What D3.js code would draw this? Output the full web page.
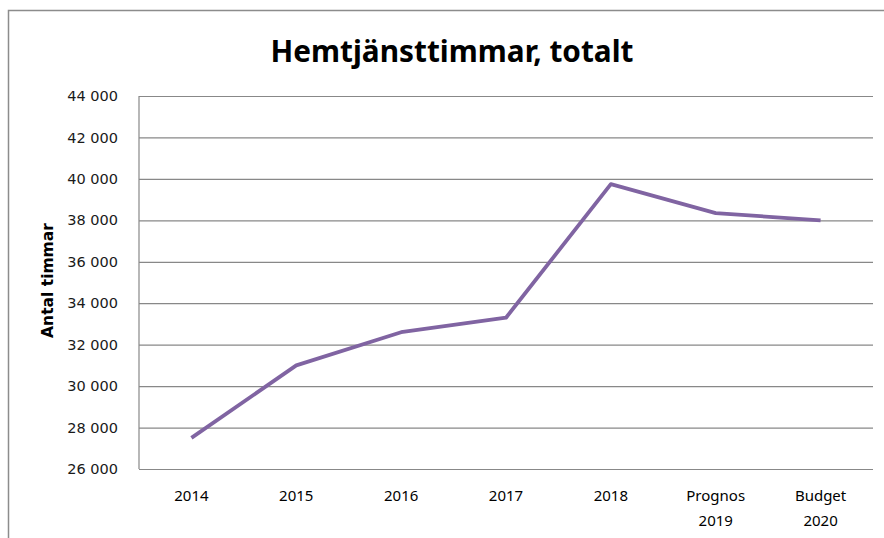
<!DOCTYPE html>
<html>
<head>
<meta charset="utf-8">
<script src="https://cdn.jsdelivr.net/npm/d3@7"></script>
<style>
  body { margin: 0; background: #fff; }
  svg { display: block; }
</style>
</head>
<body>
<svg id="chart"></svg>
<script>
// data
const categories = ["2014", "2015", "2016", "2017", "2018", "Prognos 2019", "Budget 2020"];
const hours = [27500, 31000, 32600, 33300, 39750, 38350, 38000];
const yTicks = [26000, 28000, 30000, 32000, 34000, 36000, 38000, 40000, 42000, 44000];

const W = 884, H = 538;
const margin = {top: 96, right: 11, bottom: 69, left: 139};
const width = W - margin.left - margin.right;
const height = H - margin.top - margin.bottom;

const svg = d3.select('#chart')
    .attr('width', W)
    .attr('height', H);

// outer chart border (only left and top visible in the crop)
svg.append('path')
    .attr('d', `M8.5,${H} V10.5 H${W}`)
    .attr('fill', 'none')
    .attr('stroke', '#8c8c8c')
    .attr('stroke-width', 1.5);

// title
svg.append('text')
    .attr('x', 452)
    .attr('y', 62)
    .attr('text-anchor', 'middle')
    .attr('textLength', 363)
    .attr('lengthAdjust', 'spacingAndGlyphs')
    .style('font-family', '"Noto Sans", sans-serif')
    .style('font-weight', 'bold')
    .style('font-size', '31px')
    .text('Hemtjänsttimmar, totalt');

const chart = svg.append('g')
    .attr('transform', `translate(${margin.left},${margin.top})`);

const xScale = d3.scaleBand()
    .domain(categories)
    .range([0, width]);

const yScale = d3.scaleLinear()
    .domain([26000, 44000])
    .range([height, 0]);

const fmt = d => d3.format(',')(d).replace(',', ' ');

// gridlines + y labels
const yAxis = d3.axisLeft(yScale)
    .tickValues(yTicks)
    .tickSize(-width)
    .tickPadding(21)
    .tickFormat(fmt);

chart.append('g')
    .attr('class', 'y-axis')
    .call(yAxis)
    .call(g => g.select('.domain').remove())
    .call(g => g.selectAll('.tick line')
        .attr('stroke', '#888')
        .attr('stroke-width', 1.2))
    .call(g => g.selectAll('.tick text')
        .attr('fill', '#1a1a1a')
        .style('font-family', '"DejaVu Sans", Verdana, sans-serif')
        .style('font-size', '14.5px'));

// left axis line
chart.append('line')
    .attr('x1', 0).attr('x2', 0)
    .attr('y1', 0).attr('y2', height)
    .attr('stroke', '#888')
    .attr('stroke-width', 1.2);

// x labels
const xLabels = chart.append('g')
    .attr('class', 'x-axis')
    .attr('transform', `translate(0,${height})`);

xLabels.selectAll('text')
    .data(categories)
  .join('text')
    .attr('x', d => xScale(d) + xScale.bandwidth() / 2)
    .attr('y', 32)
    .attr('text-anchor', 'middle')
    .attr('fill', '#000')
    .style('font-family', '"Noto Sans", sans-serif')
    .style('font-size', '15px')
    .each(function(d) {
      const parts = d.split(' ');
      d3.select(this).selectAll('tspan')
          .data(parts)
        .join('tspan')
          .attr('x', xScale(d) + xScale.bandwidth() / 2)
          .attr('dy', (p, i) => i === 0 ? 0 : 25)
          .text(p => p);
    });

// y axis title
svg.append('text')
    .attr('transform', `translate(53,${margin.top + height / 2 - 2}) rotate(-90)`)
    .attr('text-anchor', 'middle')
    .style('font-family', '"DejaVu Sans", Verdana, sans-serif')
    .style('font-weight', 'bold')
    .style('font-size', '15.5px')
    .text('Antal timmar');

// the line
const line = d3.line()
    .x((d, i) => xScale(categories[i]) + xScale.bandwidth() / 2)
    .y(d => yScale(d));

chart.append('path')
    .datum(hours)
    .attr('fill', 'none')
    .attr('stroke', '#8064a2')
    .attr('stroke-width', 3.8)
    .attr('stroke-linejoin', 'round')
    .attr('d', line);
</script>
</body>
</html>
